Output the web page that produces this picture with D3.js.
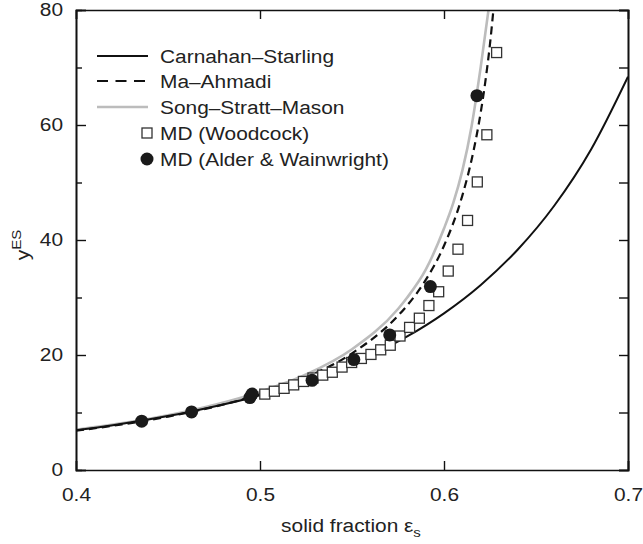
<!DOCTYPE html>
<html>
<head>
<meta charset="utf-8">
<script src="https://cdn.jsdelivr.net/npm/d3@7"></script>
<style>
  body { margin: 0; background: #fff; }
  text { font-family: "Liberation Sans", Arial, sans-serif; fill: #222; }
</style>
</head>
<body>
<main></main>
<script>
var width = 643;
var height = 544;
var margin = {top: 10, right: 14, bottom: 74, left: 76};

// curves
var csX = [0.40, 0.42, 0.44, 0.46, 0.48, 0.50, 0.52, 0.54, 0.56, 0.58, 0.60, 0.62, 0.64, 0.66, 0.68, 0.70];
var csY = [6.93, 7.80, 8.82, 10.0, 11.38, 13.0, 14.92, 17.2, 19.93, 23.23, 27.25, 32.19, 38.31, 46.0, 55.79, 68.41];

var maX = [0.40, 0.425, 0.45, 0.475, 0.50, 0.525, 0.55, 0.575, 0.58, 0.59, 0.60, 0.61, 0.615, 0.62, 0.6225, 0.625, 0.627];
var maY = [6.83, 7.93, 9.29, 10.98, 13.17, 16.11, 20.29, 26.82, 28.62, 33.01, 39.0, 47.77, 53.97, 62.28, 67.63, 74.1, 80.5];

var ssmX = [0.40, 0.45, 0.50, 0.525, 0.55, 0.575, 0.58, 0.59, 0.60, 0.605, 0.61, 0.615, 0.62, 0.6244];
var ssmY = [7.0, 9.5, 13.6, 16.6, 21.0, 28.0, 30.0, 34.8, 42.0, 46.4, 52.1, 59.8, 70.2, 80.5];

// MD (Woodcock)
var woodX = [0.5026, 0.5078, 0.5131, 0.5183, 0.5236, 0.5288, 0.5341, 0.5393, 0.5446, 0.5498, 0.5551, 0.5603, 0.5656,
  0.5708, 0.5761, 0.5813, 0.5866, 0.5918, 0.5971, 0.6023, 0.6076, 0.6128, 0.6181, 0.6233, 0.6286];
var woodY = [13.2, 13.7, 14.2, 14.8, 15.4, 16.0, 16.5, 17.0, 17.9, 18.7, 19.4, 20.1, 20.9,
  21.7, 23.3, 24.8, 26.4, 28.6, 31.0, 34.6, 38.4, 43.4, 50.1, 58.3, 72.6];

// MD (Alder & Wainwright)
var alderX = [0.4357, 0.4628, 0.4945, 0.4957, 0.5283, 0.551, 0.5705, 0.5926, 0.6179];
var alderY = [8.5, 10.1, 12.6, 13.2, 15.6, 19.2, 23.5, 31.9, 65.1];

var xTicks = [0.4, 0.5, 0.6, 0.7];
var yTicks = [0, 20, 40, 60, 80];
var yMinor = [10, 30, 50, 70];

var legendNames = ['Carnahan\u2013Starling', 'Ma\u2013Ahmadi', 'Song\u2013Stratt\u2013Mason', 'MD (Woodcock)', 'MD (Alder & Wainwright)'];

var pw = 628 - margin.left;
var ph = 470 - margin.top;
var fontSize = '18px';
var stretch = 1.16; // the original lettering is a little wide

var svg = d3.select('main').append('svg')
  .attr('width', width)
  .attr('height', height);

var x = d3.scaleLinear().domain([0.4, 0.7]).range([margin.left, margin.left + pw]);
var y = d3.scaleLinear().domain([0, 80]).range([margin.top + ph, margin.top]);

svg.append('clipPath').attr('id', 'clip')
  .append('rect')
  .attr('x', margin.left).attr('y', margin.top)
  .attr('width', pw).attr('height', ph);

function pairs(xs, ys) {
  return xs.map(function(d, i) { return [d, ys[i]]; });
}

var line = d3.line()
  .x(function(d) { return x(d[0]); })
  .y(function(d) { return y(d[1]); })
  .curve(d3.curveMonotoneX);

var plot = svg.append('g').attr('clip-path', 'url(#clip)');

plot.append('path')
  .attr('d', line(pairs(ssmX, ssmY)))
  .attr('fill', 'none')
  .attr('stroke', '#bcbcbc')
  .attr('stroke-width', 2.6);

plot.append('path')
  .attr('d', line(pairs(csX, csY)))
  .attr('fill', 'none')
  .attr('stroke', '#111')
  .attr('stroke-width', 2);

plot.append('path')
  .attr('d', line(pairs(maX, maY)))
  .attr('fill', 'none')
  .attr('stroke', '#111')
  .attr('stroke-width', 2.2)
  .attr('stroke-dasharray', '8,5');

plot.selectAll('.wood')
  .data(pairs(woodX, woodY))
  .enter().append('rect')
  .attr('class', 'wood')
  .attr('x', function(d) { return x(d[0]) - 5; })
  .attr('y', function(d) { return y(d[1]) - 5; })
  .attr('width', 10)
  .attr('height', 10)
  .attr('fill', '#fff')
  .attr('stroke', '#333')
  .attr('stroke-width', 1.3);

plot.selectAll('.alder')
  .data(pairs(alderX, alderY))
  .enter().append('circle')
  .attr('class', 'alder')
  .attr('cx', function(d) { return x(d[0]); })
  .attr('cy', function(d) { return y(d[1]); })
  .attr('r', 6.5)
  .attr('fill', '#1a1a1a');

// axes, ticks pointing inward
svg.append('g')
  .attr('transform', 'translate(0,' + (margin.top + ph) + ')')
  .call(d3.axisBottom(x).tickValues(xTicks).tickSize(-9).tickPadding(18).tickFormat(d3.format('.1f')));
svg.append('g')
  .attr('transform', 'translate(0,' + margin.top + ')')
  .call(d3.axisTop(x).tickValues(xTicks).tickSize(-9).tickFormat(''));
var left = svg.append('g')
  .attr('transform', 'translate(' + margin.left + ',0)')
  .call(d3.axisLeft(y).tickValues(yTicks).tickSize(-10));
svg.append('g')
  .attr('transform', 'translate(' + (margin.left + pw) + ',0)')
  .call(d3.axisRight(y).tickValues(yTicks).tickSize(-9).tickFormat(''));
svg.append('g')
  .attr('transform', 'translate(' + margin.left + ',0)')
  .call(d3.axisLeft(y).tickValues(yMinor).tickSize(-6).tickFormat(''));
svg.append('g')
  .attr('transform', 'translate(' + (margin.left + pw) + ',0)')
  .call(d3.axisRight(y).tickValues(yMinor).tickSize(-9).tickFormat(''));

svg.selectAll('.domain').attr('stroke', '#111').attr('stroke-width', 1.6);
svg.selectAll('.tick line').attr('stroke', '#111').attr('stroke-width', 1.4);
svg.selectAll('.tick text')
  .style('font-size', fontSize)
  .style('font-family', '"Liberation Sans", Arial, sans-serif')
  .attr('fill', '#222')
  .attr('transform', 'scale(' + stretch + ',1)');
left.selectAll('.tick text').attr('x', -13 / stretch);

// axis labels
svg.append('text')
  .attr('transform', 'translate(351,532) scale(' + stretch + ',1)')
  .attr('text-anchor', 'middle')
  .style('font-size', fontSize)
  .html('solid fraction \u03b5<tspan dy="5" font-size="13px">s</tspan>');

svg.append('text')
  .attr('transform', 'translate(29,245) rotate(-90) scale(' + stretch + ',1)')
  .attr('text-anchor', 'middle')
  .style('font-size', fontSize)
  .html('y<tspan dy="-8" font-size="13px">ES</tspan>');

// legend
var legY = [56, 81, 107, 133, 159];
var legend = svg.append('g');
legendNames.forEach(function(name, i) {
  var ly = legY[i];
  if (i < 3) {
    legend.append('line')
      .attr('x1', 97).attr('x2', 148)
      .attr('y1', ly).attr('y2', ly)
      .attr('stroke', i === 2 ? '#bcbcbc' : '#111')
      .attr('stroke-width', i === 2 ? 2.6 : 2.2)
      .attr('stroke-dasharray', i === 1 ? '11,7.5' : null);
  } else if (i === 3) {
    legend.append('rect')
      .attr('x', 142).attr('y', ly - 5)
      .attr('width', 10).attr('height', 10)
      .attr('fill', '#fff').attr('stroke', '#333').attr('stroke-width', 1.3);
  } else {
    legend.append('circle')
      .attr('cx', 147).attr('cy', ly).attr('r', 6.5)
      .attr('fill', '#1a1a1a');
  }
  legend.append('text')
    .attr('transform', 'translate(160,' + (ly + 7) + ') scale(' + stretch + ',1)')
    .style('font-size', fontSize)
    .text(name);
});
</script>
</body>
</html>
